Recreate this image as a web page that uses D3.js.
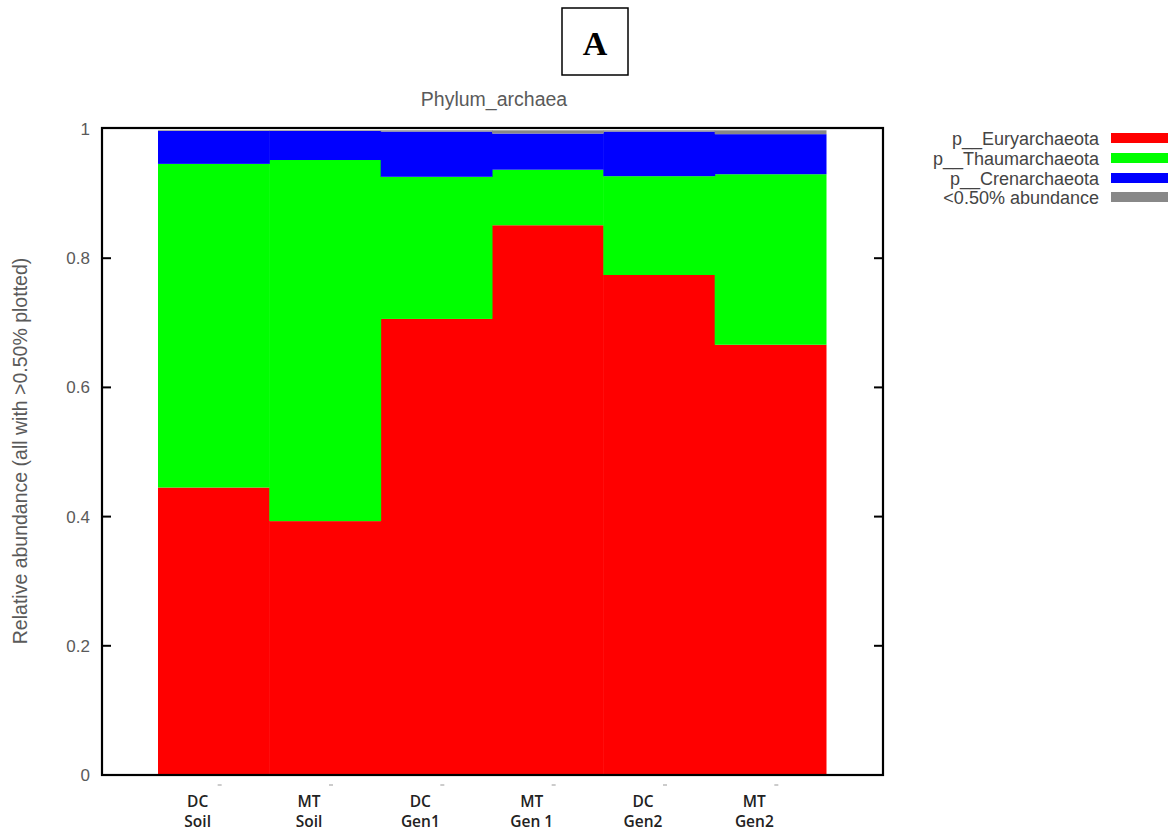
<!DOCTYPE html>
<html>
<head>
<meta charset="utf-8">
<script src="https://cdn.jsdelivr.net/npm/d3@7"></script>
<style>
body{margin:0;background:#fff;}
svg{display:block;}
</style>
</head>
<body>
<svg id="chart" width="1174" height="832"></svg>
<script>
const categories = [["DC","Soil"],["MT","Soil"],["DC","Gen1"],["MT","Gen 1"],["DC","Gen2"],["MT","Gen2"]];
const seriesNames = ["p__Euryarchaeota","p__Thaumarchaeota","p__Crenarchaeota","<0.50% abundance"];
const euryarchaeota = [0.445, 0.393, 0.706, 0.851, 0.774, 0.666];
const thaumarchaeota = [0.501, 0.559, 0.220, 0.086, 0.153, 0.264];
const crenarchaeota = [0.051, 0.045, 0.070, 0.056, 0.069, 0.062];
const lowAbundance = [0.001, 0.001, 0.002, 0.005, 0.002, 0.006];
const yTicks = [0, 0.2, 0.4, 0.6, 0.8, 1];
const colors = ["#ff0000","#00ff00","#0000ff","#888888"];

const svg = d3.select("#chart");
const frame = {left:102, right:883, top:128, bottom:775};

const x = d3.scaleBand().domain(d3.range(categories.length)).range([158, 826]).padding(0);
const y = d3.scaleLinear().domain([0,1]).range([775, 129]);

const seriesData = [euryarchaeota, thaumarchaeota, crenarchaeota, lowAbundance];
const table = categories.map((c,i)=>{
  const o = {i};
  seriesNames.forEach((s,k)=>o[s]=seriesData[k][i]);
  return o;
});
const stack = d3.stack().keys(seriesNames)(table);

svg.append("g").selectAll("g").data(stack).join("g")
  .attr("fill",(d,k)=>colors[k])
  .selectAll("rect").data(d=>d).join("rect")
  .attr("x",d=>x(d.data.i))
  .attr("width",x.bandwidth()+0.5)
  .attr("y",d=>y(d[1]))
  .attr("height",d=>y(d[0])-y(d[1]));

// frame
svg.append("rect").attr("x",frame.left).attr("y",frame.top)
  .attr("width",frame.right-frame.left).attr("height",frame.bottom-frame.top)
  .attr("fill","none").attr("stroke","#000").attr("stroke-width",2.2);

// y ticks (inward on both sides)
const tg = svg.append("g");
yTicks.forEach(t=>{
  if(t>0 && t<1){
    tg.append("line").attr("x1",frame.left).attr("x2",frame.left+9).attr("y1",y(t)).attr("y2",y(t)).attr("stroke","#000").attr("stroke-width",2);
    tg.append("line").attr("x1",frame.right-9).attr("x2",frame.right).attr("y1",y(t)).attr("y2",y(t)).attr("stroke","#000").attr("stroke-width",2);
  }
  tg.append("text").attr("x",frame.left-12).attr("y",y(t)+6)
    .attr("text-anchor","end").attr("font-family","Liberation Sans, Arial, sans-serif")
    .attr("font-size",17).attr("fill","#5a5a5a").text(String(t));
});

// x small tick dashes
const xg = svg.append("g");
categories.forEach((c,i)=>{
  const cx = x(i)+x.bandwidth()/2;
  xg.append("line").attr("x1",cx+4).attr("x2",cx+8).attr("y1",785).attr("y2",785).attr("stroke","#999").attr("stroke-width",1);
  const t = xg.append("text").attr("text-anchor","middle")
    .attr("font-family","Open Sans, Liberation Sans, sans-serif").attr("font-size",15.5)
    .attr("font-weight",600).attr("fill","#222");
  t.append("tspan").attr("x",cx-16).attr("y",807).text(c[0]);
  t.append("tspan").attr("x",cx-16).attr("y",827).text(c[1]);
});

// y title
svg.append("text").attr("transform","translate(27,451) rotate(-90)")
  .attr("text-anchor","middle").attr("font-family","Liberation Sans, Arial, sans-serif")
  .attr("font-size",19.5).attr("fill","#5a5a5a")
  .text("Relative abundance (all with >0.50% plotted)");

// chart title
svg.append("text").attr("x",494).attr("y",106).attr("text-anchor","middle")
  .attr("font-family","Liberation Sans, Arial, sans-serif").attr("font-size",19.5).attr("fill","#5a5a5a")
  .text("Phylum_archaea");

// panel label
svg.append("rect").attr("x",562).attr("y",8).attr("width",66).attr("height",67)
  .attr("fill","#fff").attr("stroke","#000").attr("stroke-width",1.5);
svg.append("text").attr("x",595).attr("y",55).attr("text-anchor","middle")
  .attr("font-family","Liberation Serif, Times New Roman, serif").attr("font-weight","bold")
  .attr("font-size",34).attr("fill","#000").text("A");

// legend
const lg = svg.append("g");
const legendRows = [138,158,178,197];
seriesNames.forEach((s,k)=>{
  lg.append("text").attr("x",1099).attr("y",legendRows[k]+6.5).attr("text-anchor","end")
    .attr("font-family","Liberation Sans, Arial, sans-serif").attr("font-size",18).attr("fill","#444")
    .text(s);
  lg.append("rect").attr("x",1111).attr("y",legendRows[k]-5).attr("width",57).attr("height",10).attr("fill",colors[k]);
});
</script>
</body>
</html>
